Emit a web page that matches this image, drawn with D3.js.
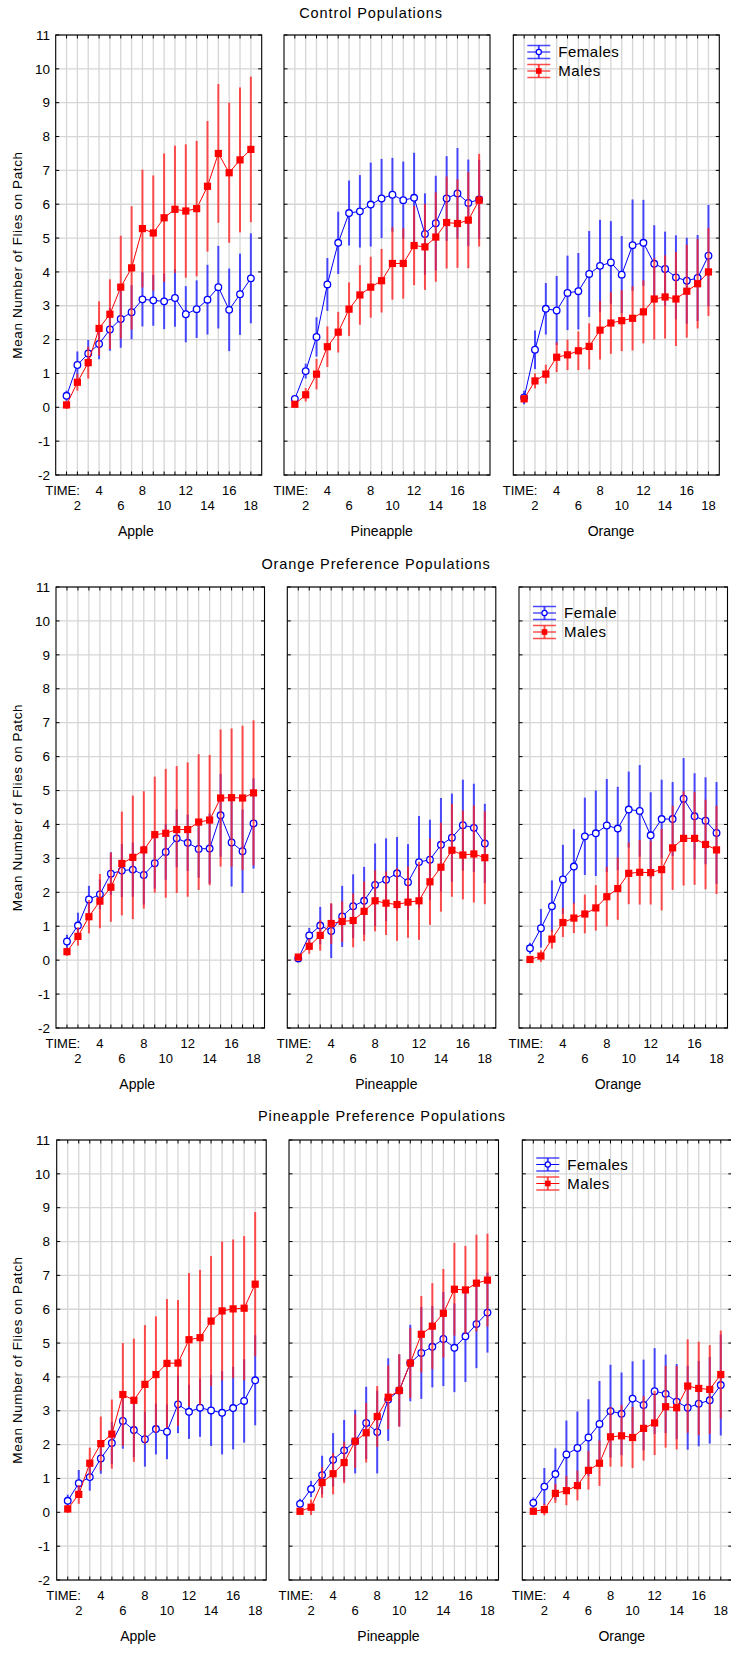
<!DOCTYPE html>
<html><head><meta charset="utf-8">
<script src="https://cdn.jsdelivr.net/npm/d3@7/dist/d3.min.js"></script>
<style>
body{margin:0;background:#fff}
svg text{font-family:"Liberation Sans",Arial,Helvetica,sans-serif;fill:#000}
</style>
</head><body>
<svg id="chart" width="731" height="1654"></svg>
<script>
// ---------- data ----------
const times = [1,2,3,4,5,6,7,8,9,10,11,12,13,14,15,16,17,18];
const yTicks = [-2,-1,0,1,2,3,4,5,6,7,8,9,10,11];
const xTickLabelsUpper = [4,8,12,16];
const xTickLabelsLower = [2,6,10,14,18];
const rowTitles = ["Control Populations","Orange Preference Populations","Pineapple Preference Populations"];
const fruitLabels = ["Apple","Pineapple","Orange"];
const legendLabels = [["Females","Males"],["Female","Males"],["Females","Males"]];
const yTitle = "Mean Number of Flies on Patch";

// Control populations
const ctrlAppleF    = [0.34,1.25,1.59,1.87,2.30,2.61,2.81,3.19,3.16,3.13,3.23,2.75,2.90,3.18,3.55,2.88,3.34,3.81];
const ctrlAppleFErr = [0.15,0.40,0.40,0.45,0.63,0.85,0.80,0.80,0.75,0.82,0.85,0.83,0.85,1.03,1.22,1.22,1.20,1.33];
const ctrlAppleM    = [0.07,0.74,1.32,2.33,2.75,3.55,4.12,5.28,5.15,5.60,5.85,5.80,5.87,6.53,7.50,6.93,7.31,7.62];
const ctrlAppleMErr = [0.12,0.25,0.47,0.80,1.03,1.52,1.82,1.74,1.70,1.90,1.88,1.97,2.00,1.93,2.05,2.07,2.14,2.15];

const ctrlPineF    = [0.25,1.07,2.08,3.63,4.86,5.74,5.79,5.99,6.17,6.28,6.12,6.19,5.12,5.44,6.17,6.32,6.04,6.14];
const ctrlPineFErr = [0.10,0.22,0.58,0.78,0.92,0.96,1.07,1.24,1.17,1.09,1.14,1.33,1.20,1.40,1.25,1.34,1.28,1.17];
const ctrlPineM    = [0.09,0.37,0.98,1.79,2.22,2.90,3.32,3.55,3.74,4.25,4.25,4.78,4.74,5.03,5.46,5.43,5.53,6.12];
const ctrlPineMErr = [0.08,0.20,0.45,0.60,0.60,0.79,0.88,0.90,0.94,1.07,1.04,1.17,1.27,1.32,1.36,1.31,1.42,1.37];

const ctrlOrangeF    = [0.29,1.70,2.91,2.86,3.38,3.43,3.94,4.18,4.28,3.92,4.79,4.86,4.24,4.09,3.84,3.74,3.82,4.48];
const ctrlOrangeFErr = [0.20,0.57,0.76,1.02,1.10,1.13,1.27,1.36,1.22,1.14,1.35,1.27,1.14,1.10,1.24,1.27,1.27,1.50];
const ctrlOrangeM    = [0.25,0.78,0.98,1.48,1.55,1.67,1.80,2.28,2.49,2.56,2.63,2.82,3.20,3.26,3.20,3.43,3.65,4.00];
const ctrlOrangeMErr = [0.10,0.22,0.28,0.44,0.45,0.57,0.68,0.87,0.91,0.90,0.95,0.93,1.20,1.23,1.39,1.37,1.32,1.30];

// Orange preference populations
const orPrefAppleF    = [0.55,1.02,1.79,1.94,2.55,2.64,2.67,2.51,2.86,3.19,3.59,3.46,3.28,3.29,4.27,3.47,3.21,4.03];
const orPrefAppleFErr = [0.20,0.38,0.40,0.44,0.63,0.78,0.80,0.87,0.75,0.82,0.85,0.83,0.85,1.03,1.22,1.30,1.23,1.33];
const orPrefAppleM    = [0.25,0.70,1.28,1.74,2.15,2.85,3.03,3.25,3.70,3.74,3.85,3.85,4.07,4.13,4.78,4.79,4.78,4.93];
const orPrefAppleMErr = [0.12,0.27,0.49,0.80,1.02,1.53,1.82,1.73,1.71,1.90,1.87,1.98,2.00,1.92,2.02,2.04,2.13,2.14];

const orPrefPineF    = [0.05,0.73,1.02,0.86,1.29,1.59,1.75,2.22,2.37,2.56,2.30,2.89,2.96,3.40,3.61,3.98,3.90,3.44];
const orPrefPineFErr = [0.10,0.22,0.55,0.80,0.90,0.94,1.00,1.22,1.22,1.07,1.12,1.36,1.18,1.38,1.30,1.34,1.30,1.17];
const orPrefPineM    = [0.09,0.41,0.73,1.08,1.14,1.17,1.44,1.75,1.68,1.64,1.71,1.75,2.31,2.74,3.24,3.10,3.13,3.02];
const orPrefPineMErr = [0.08,0.22,0.45,0.60,0.60,0.79,0.88,0.90,0.94,1.07,1.05,1.15,1.27,1.31,1.37,1.31,1.43,1.37];

const orPrefOrangeF    = [0.35,0.94,1.59,2.38,2.76,3.65,3.74,3.97,3.88,4.44,4.40,3.68,4.16,4.16,4.76,4.24,4.11,3.75];
const orPrefOrangeFErr = [0.16,0.57,0.76,1.02,1.10,1.14,1.26,1.37,1.23,1.12,1.35,1.27,1.16,1.09,1.20,1.27,1.28,1.50];
const orPrefOrangeM    = [0.02,0.12,0.62,1.11,1.24,1.36,1.54,1.87,2.11,2.56,2.59,2.58,2.67,3.31,3.59,3.59,3.41,3.25];
const orPrefOrangeMErr = [0.08,0.17,0.28,0.43,0.44,0.57,0.67,0.88,0.92,0.91,0.95,0.94,1.20,1.24,1.39,1.37,1.32,1.30];

// Pineapple preference populations
const pnPrefAppleF    = [0.34,0.86,1.04,1.59,2.05,2.70,2.43,2.16,2.46,2.38,3.19,2.97,3.09,3.01,2.94,3.08,3.29,3.90];
const pnPrefAppleFErr = [0.18,0.39,0.40,0.45,0.62,0.82,0.80,0.81,0.75,0.81,0.85,0.80,0.86,1.05,1.23,1.22,1.23,1.33];
const pnPrefAppleM    = [0.10,0.53,1.45,2.03,2.31,3.48,3.31,3.78,4.07,4.40,4.41,5.10,5.16,5.65,5.95,6.01,6.03,6.74];
const pnPrefAppleMErr = [0.12,0.28,0.46,0.80,1.02,1.52,1.82,1.75,1.72,1.90,1.86,1.97,2.00,1.92,2.05,2.05,2.13,2.13];

const pnPrefPineF    = [0.25,0.69,1.10,1.55,1.83,2.09,2.64,2.37,3.33,3.60,4.41,4.71,4.89,5.12,4.86,5.20,5.56,5.90];
const pnPrefPineFErr = [0.15,0.24,0.57,0.79,0.90,0.94,1.07,1.22,1.22,1.06,1.13,1.36,1.20,1.39,1.31,1.35,1.30,1.18];
const pnPrefPineM    = [0.03,0.15,0.88,1.14,1.47,2.10,2.35,2.83,3.40,3.60,4.41,5.26,5.50,5.88,6.59,6.57,6.77,6.86];
const pnPrefPineMErr = [0.08,0.23,0.45,0.61,0.61,0.79,0.88,0.90,0.94,1.07,1.04,1.13,1.27,1.31,1.37,1.30,1.43,1.37];

const pnPrefOrangeF    = [0.28,0.76,1.13,1.71,1.90,2.21,2.61,2.99,2.91,3.36,3.17,3.58,3.50,3.27,3.09,3.21,3.31,3.76];
const pnPrefOrangeFErr = [0.16,0.55,0.76,1.00,1.08,1.13,1.27,1.37,1.22,1.10,1.34,1.27,1.16,1.11,1.24,1.26,1.28,1.49];
const pnPrefOrangeM    = [0.03,0.08,0.56,0.64,0.79,1.24,1.45,2.23,2.26,2.21,2.48,2.64,3.12,3.09,3.73,3.66,3.63,4.07];
const pnPrefOrangeMErr = [0.08,0.17,0.28,0.43,0.44,0.57,0.67,0.88,0.91,0.90,0.95,0.95,1.21,1.23,1.38,1.38,1.31,1.30];

// ---------- layout ----------
const rowLayout = [
  {top:35,  bottom:475,  lefts:[55.7,284,513.3], width:206,   titleX:371, titleY:13,   legX:513.3, legY:[52,71]},
  {top:587, bottom:1028, lefts:[56,287.3,519],   width:208.5, titleX:376, titleY:564,  legX:519,   legY:[613,632]},
  {top:1140,bottom:1580, lefts:[56.7,289,522.3], width:209.5, titleX:382, titleY:1116, legX:522.3, legY:[1164.5,1183.5]}
];
const panelData = [
  [[ctrlAppleF,ctrlAppleFErr,ctrlAppleM,ctrlAppleMErr],[ctrlPineF,ctrlPineFErr,ctrlPineM,ctrlPineMErr],[ctrlOrangeF,ctrlOrangeFErr,ctrlOrangeM,ctrlOrangeMErr]],
  [[orPrefAppleF,orPrefAppleFErr,orPrefAppleM,orPrefAppleMErr],[orPrefPineF,orPrefPineFErr,orPrefPineM,orPrefPineMErr],[orPrefOrangeF,orPrefOrangeFErr,orPrefOrangeM,orPrefOrangeMErr]],
  [[pnPrefAppleF,pnPrefAppleFErr,pnPrefAppleM,pnPrefAppleMErr],[pnPrefPineF,pnPrefPineFErr,pnPrefPineM,pnPrefPineMErr],[pnPrefOrangeF,pnPrefOrangeFErr,pnPrefOrangeM,pnPrefOrangeMErr]]
];

const BLUE = "#0000ff", RED = "#ff0000";
const BLUE_BAR = "#1c1cff", RED_BAR = "#ff2020";
const GRID = "#d6d6d6";
const svg = d3.select("#chart");

rowLayout.forEach((L, r) => {
  const g = svg.append("g");
  g.append("text").attr("x", L.titleX).attr("y", L.titleY).attr("dy","0.35em")
    .attr("text-anchor","middle").attr("font-size",14.5).attr("letter-spacing",0.9)
    .text(rowTitles[r]);

  const y = d3.scaleLinear().domain([-2,11]).range([L.bottom, L.top]);

  // y-axis title
  g.append("text")
    .attr("transform", `translate(17,${(L.top+L.bottom)/2}) rotate(-90)`)
    .attr("dy","0.35em").attr("text-anchor","middle").attr("font-size",13.5).attr("letter-spacing",0.6)
    .text(yTitle);

  // y tick labels (first panel only)
  g.append("g").selectAll("text").data(yTicks).join("text")
    .attr("x", 50).attr("y", d => y(d)).attr("dy","0.35em")
    .attr("text-anchor","end").attr("font-size",13.5).text(d => d);

  L.lefts.forEach((left, c) => {
    const right = left + L.width;
    const x = d3.scaleLinear().domain([0,19]).range([left, right]);
    const p = g.append("g");
    const [fm, fe, mm, me] = panelData[r][c];

    // grid
    p.append("g").selectAll("line").data(times).join("line")
      .attr("x1", d => x(d)).attr("x2", d => x(d)).attr("y1", L.top).attr("y2", L.bottom)
      .attr("stroke", GRID).attr("stroke-width", 1.3);
    p.append("g").selectAll("line").data(yTicks).join("line")
      .attr("x1", left).attr("x2", right).attr("y1", d => y(d)).attr("y2", d => y(d))
      .attr("stroke", GRID).attr("stroke-width", 1.3);

    // inward ticks
    const tk = 3.5;
    const tg = p.append("g").attr("stroke","#000").attr("stroke-width",1);
    tg.selectAll(".tb").data(times).join("line").attr("class","tb")
      .attr("x1", d => x(d)).attr("x2", d => x(d)).attr("y1", L.bottom).attr("y2", L.bottom - tk);
    tg.selectAll(".tt").data(times).join("line").attr("class","tt")
      .attr("x1", d => x(d)).attr("x2", d => x(d)).attr("y1", L.top).attr("y2", L.top + tk);
    tg.selectAll(".tl").data(yTicks).join("line").attr("class","tl")
      .attr("x1", left).attr("x2", left + tk).attr("y1", d => y(d)).attr("y2", d => y(d));
    tg.selectAll(".tr").data(yTicks).join("line").attr("class","tr")
      .attr("x1", right).attr("x2", right - tk).attr("y1", d => y(d)).attr("y2", d => y(d));

    // frame
    p.append("rect").attr("x", left).attr("y", L.top).attr("width", L.width).attr("height", L.bottom - L.top)
      .attr("fill","none").attr("stroke","#000").attr("stroke-width",1.1);

    // x tick labels
    p.append("text").attr("x", left - 10.5).attr("y", L.bottom + 15).attr("dy","0.35em")
      .attr("font-size",13).text("TIME:");
    p.append("g").selectAll("text").data(xTickLabelsUpper).join("text")
      .attr("x", d => x(d)).attr("y", L.bottom + 15).attr("dy","0.35em")
      .attr("text-anchor","middle").attr("font-size",13).text(d => d);
    p.append("g").selectAll("text").data(xTickLabelsLower).join("text")
      .attr("x", d => x(d)).attr("y", L.bottom + 30).attr("dy","0.35em")
      .attr("text-anchor","middle").attr("font-size",13).text(d => d);

    // category label
    const areaLeft = c === 0 ? 10 : left - 10.5;
    p.append("text").attr("x", (areaLeft + right)/2).attr("y", L.bottom + 56).attr("dy","0.35em")
      .attr("text-anchor","middle").attr("font-size",14).text(fruitLabels[c]);

    const series = [
      {m: fm, e: fe, col: BLUE, bar: BLUE_BAR, shape: "circle"},
      {m: mm, e: me, col: RED,  bar: RED_BAR,  shape: "square"}
    ];
    series.forEach(s => {
      const pts = times.map((t,i) => ({t, v: s.m[i], e: s.e[i]}));
      p.append("g").selectAll("line").data(pts).join("line")
        .attr("x1", d => x(d.t)).attr("x2", d => x(d.t))
        .attr("y1", d => y(d.v - d.e)).attr("y2", d => y(d.v + d.e))
        .attr("stroke", s.bar).attr("stroke-width", 2).attr("stroke-opacity", 0.78);
      p.append("path").datum(pts)
        .attr("d", d3.line().x(d => x(d.t)).y(d => y(d.v)))
        .attr("fill","none").attr("stroke", s.col).attr("stroke-width", 1);
      if (s.shape === "circle") {
        p.append("g").selectAll("circle").data(pts).join("circle")
          .attr("cx", d => x(d.t)).attr("cy", d => y(d.v)).attr("r", 3.3)
          .attr("fill","#fff").attr("stroke", s.col).attr("stroke-width", 1.3);
      } else {
        p.append("g").selectAll("rect").data(pts).join("rect")
          .attr("x", d => x(d.t) - 3.6).attr("y", d => y(d.v) - 3.6)
          .attr("width", 7.2).attr("height", 7.2).attr("fill", s.col);
      }
    });
  });

  // legend in third panel
  const lg = g.append("g");
  const cx = L.legX + 25.5, hw = 11.5, cap = 6.5;
  [[BLUE, BLUE_BAR, "circle"], [RED, RED_BAR, "square"]].forEach(([col, bar, shape], i) => {
    const ly = L.legY[i];
    const s = lg.append("g");
    s.append("line").attr("x1", cx - hw).attr("x2", cx + hw).attr("y1", ly - cap).attr("y2", ly - cap)
      .attr("stroke", bar).attr("stroke-width", 1.5).attr("stroke-opacity", 0.8);
    s.append("line").attr("x1", cx - hw).attr("x2", cx + hw).attr("y1", ly + cap).attr("y2", ly + cap)
      .attr("stroke", bar).attr("stroke-width", 1.5).attr("stroke-opacity", 0.8);
    s.append("line").attr("x1", cx).attr("x2", cx).attr("y1", ly - cap).attr("y2", ly + cap)
      .attr("stroke", bar).attr("stroke-width", 2).attr("stroke-opacity", 0.8);
    s.append("line").attr("x1", cx - hw).attr("x2", cx + hw).attr("y1", ly).attr("y2", ly)
      .attr("stroke", col).attr("stroke-width", 1);
    if (shape === "circle") {
      s.append("circle").attr("cx", cx).attr("cy", ly).attr("r", 2.6)
        .attr("fill","#fff").attr("stroke", col).attr("stroke-width", 1.2);
    } else {
      s.append("rect").attr("x", cx - 2.8).attr("y", ly - 2.8).attr("width", 5.6).attr("height", 5.6).attr("fill", col);
    }
    s.append("text").attr("x", L.legX + 45).attr("y", ly).attr("dy","0.35em")
      .attr("font-size",15).attr("letter-spacing",0.5).text(legendLabels[r][i]);
  });
});
</script>
</body></html>
